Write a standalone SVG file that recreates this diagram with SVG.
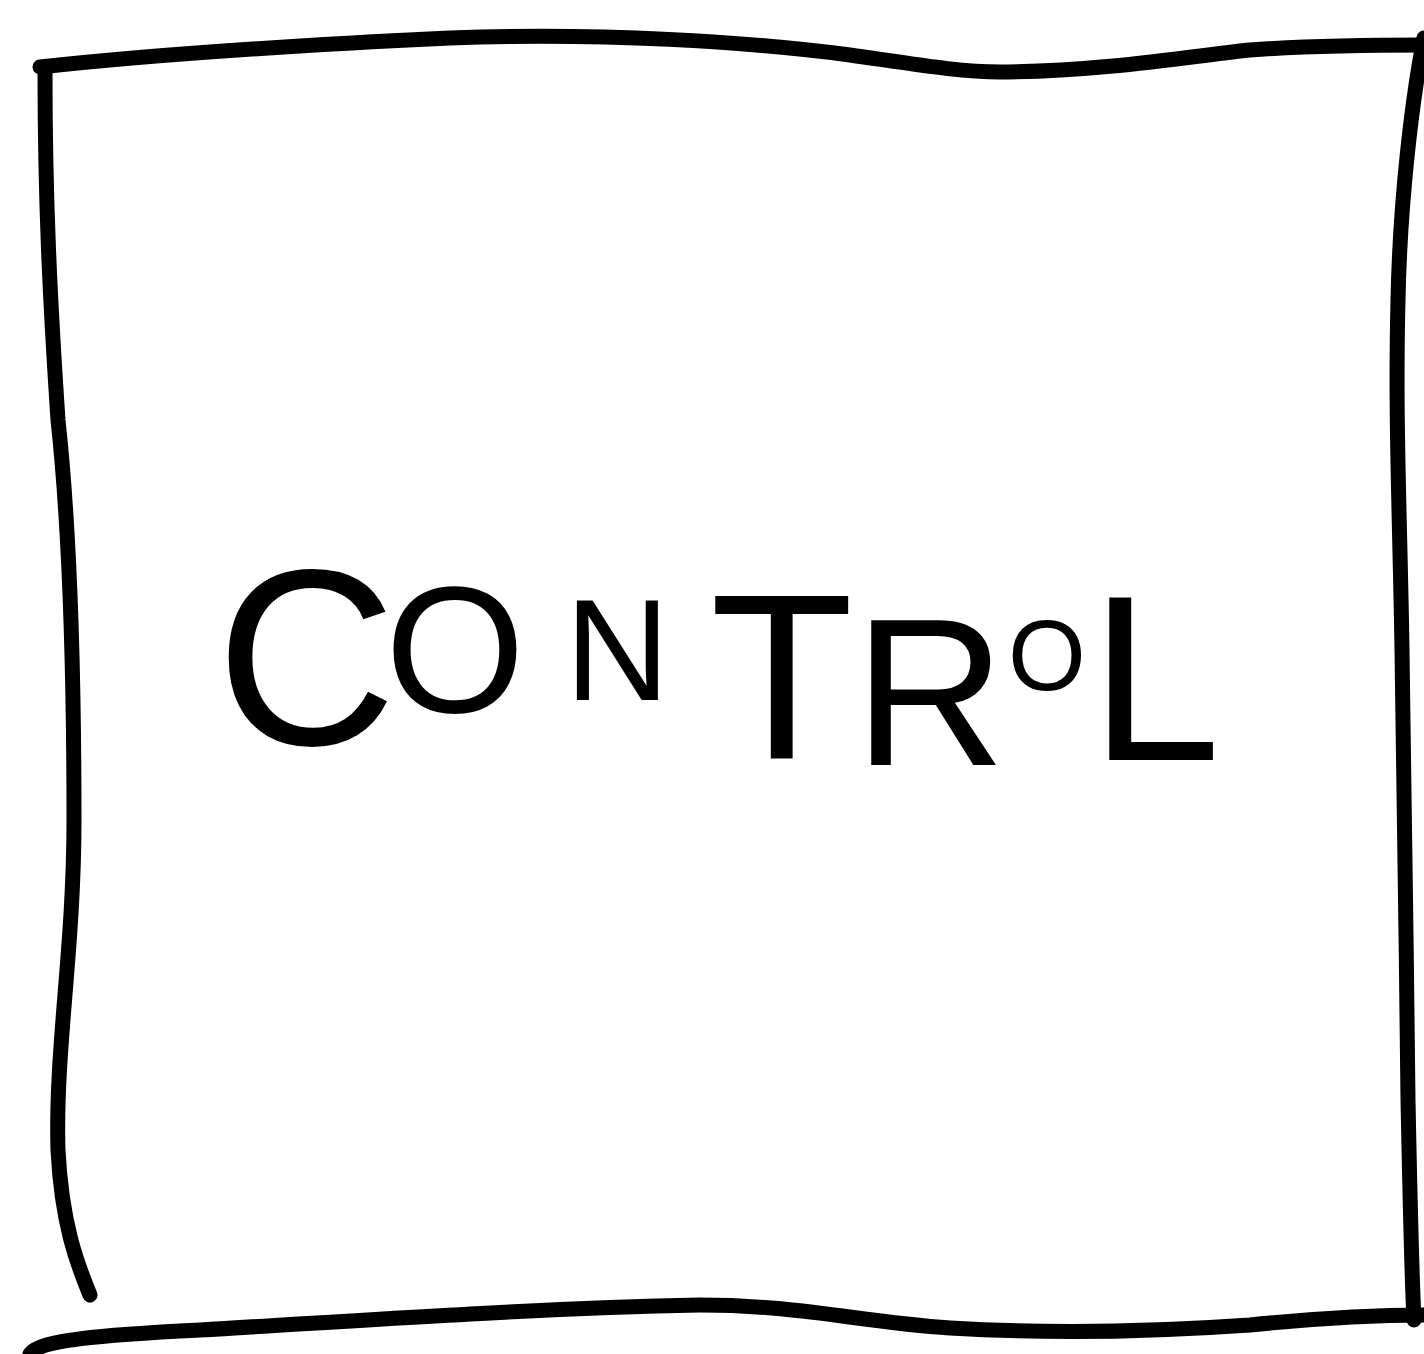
<svg xmlns="http://www.w3.org/2000/svg" width="1424" height="1354" viewBox="0 0 1424 1354">
<style>
.s{fill:none;stroke:#000;stroke-width:15;stroke-linecap:round;stroke-linejoin:round}
.t{font-family:"Liberation Sans",Arial,sans-serif;fill:#000}
</style>
<rect width="1424" height="1354" fill="#fff"/>
<g id="box">
<path class="s" d="M40,67 C150,55 300,45 450,38 C600,32 750,42 850,55 C920,65 960,72 1000,72 C1100,72 1200,55 1250,50 C1320,45 1380,45 1424,45"/>
<path class="s" d="M45,72 C45,200 50,300 58,420 C72,550 74,700 74,820 C74,950 55,1050 58,1150 C62,1230 80,1270 90,1295"/>
<path class="s" d="M1424,38 C1412,100 1400,200 1398,300 C1395,420 1400,520 1402,650 C1405,800 1406,950 1408,1100 C1410,1200 1412,1280 1414,1320"/>
<path class="s" d="M30,1354 C40,1340 100,1335 200,1330 C400,1318 550,1308 700,1305 C800,1305 860,1322 950,1328 C1050,1334 1150,1332 1250,1325 C1320,1318 1380,1315 1424,1315"/>
</g>
<g id="label">
<text class="t"><tspan x="216" y="745" font-size="250">C</tspan><tspan x="385" y="712" font-size="180">O</tspan><tspan x="565" y="700" font-size="145">N</tspan><tspan x="710" y="758" font-size="235">T</tspan><tspan x="854" y="765" font-size="210">R</tspan><tspan x="1008" y="690" font-size="100">O</tspan><tspan x="1090" y="760" font-size="235">L</tspan></text>
</g>
</svg>
